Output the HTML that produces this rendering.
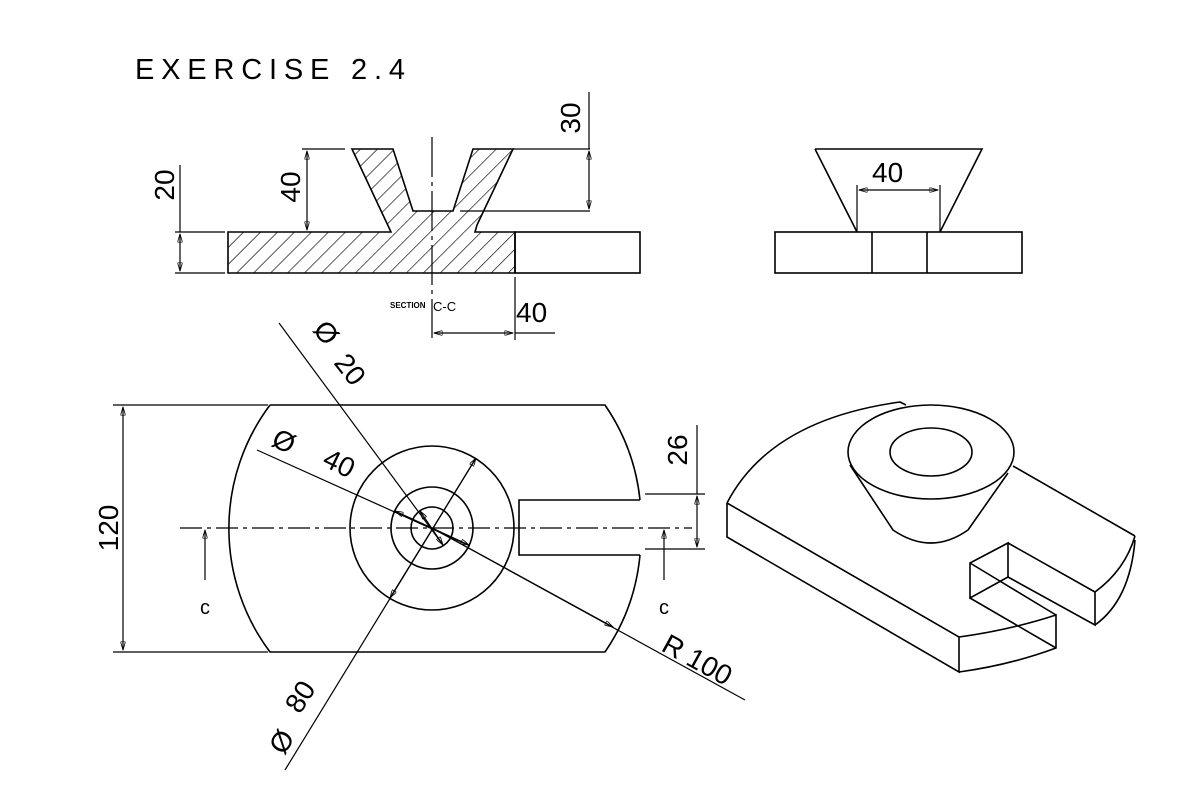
<!DOCTYPE html>
<html><head><meta charset="utf-8"><style>
html,body{margin:0;padding:0;background:#fff;}
svg{display:block;}
text{font-family:"Liberation Sans",sans-serif;fill:#000;}
</style></head><body>
<svg width="1200" height="802" viewBox="0 0 1200 802" xmlns="http://www.w3.org/2000/svg">
<defs>
<marker id="a" viewBox="0 0 10 6" refX="10" refY="3" markerWidth="9" markerHeight="5" orient="auto-start-reverse" markerUnits="userSpaceOnUse">
<path d="M0,0 L10,3 L0,6 z" fill="none" stroke="#000" stroke-width="1"/>
</marker>
<pattern id="h" patternUnits="userSpaceOnUse" width="12" height="12" patternTransform="rotate(45)">
<line x1="0" y1="0" x2="0" y2="12" stroke="#000" stroke-width="1.3"/>
</pattern>
</defs>
<g fill="none" stroke="#000" stroke-width="1.6">
<text x="135" y="79" font-size="29" stroke="none" textLength="270" style="font-weight:300">EXERCISE 2.4</text>

<!-- SECTION VIEW -->
<path d="M228,232 L391,232 L352,149 L393,149 L413,211 L453,211 L473,149 L513,149 L477,225 L475,232 L515,232 L515,273 L228,273 Z" fill="url(#h)"/>
<rect x="515" y="232" width="125" height="41"/>
<line x1="432" y1="137" x2="432" y2="338" stroke-width="1.2" stroke-dasharray="40 5 4 5"/>
<!-- dims -->
<line x1="175" y1="232" x2="225" y2="232" stroke-width="1.2"/>
<line x1="175" y1="273" x2="225" y2="273" stroke-width="1.2"/>
<line x1="180" y1="165" x2="180" y2="232" stroke-width="1.2"/>
<line x1="180" y1="234" x2="180" y2="271" stroke-width="1.2" marker-start="url(#a)" marker-end="url(#a)"/>
<line x1="302" y1="149" x2="345" y2="149" stroke-width="1.2"/>
<line x1="307" y1="151" x2="307" y2="230" stroke-width="1.2" marker-start="url(#a)" marker-end="url(#a)"/>
<line x1="513" y1="149" x2="590" y2="149" stroke-width="1.2"/>
<line x1="460" y1="211" x2="590" y2="211" stroke-width="1.2"/>
<line x1="589" y1="92" x2="589" y2="149" stroke-width="1.2"/>
<line x1="589" y1="151" x2="589" y2="209" stroke-width="1.2" marker-start="url(#a)" marker-end="url(#a)"/>
<line x1="515" y1="277" x2="515" y2="340" stroke-width="1.2"/>
<line x1="434" y1="333" x2="513" y2="333" stroke-width="1.2" marker-start="url(#a)" marker-end="url(#a)"/>
<line x1="515" y1="333" x2="555" y2="333" stroke-width="1.2"/>
<text transform="translate(174,185) rotate(-90)" font-size="28" stroke="none" text-anchor="middle">20</text>
<text transform="translate(300,187) rotate(-90)" font-size="28" stroke="none" text-anchor="middle">40</text>
<text transform="translate(580,118) rotate(-90)" font-size="28" stroke="none" text-anchor="middle">30</text>
<text x="390" y="308" font-size="8" stroke="none" font-weight="bold">SECTION</text>
<text x="433" y="311" font-size="13" stroke="none">C-C</text>
<text x="516" y="322" font-size="28" stroke="none">40</text>

<!-- SIDE VIEW -->
<rect x="775" y="232" width="247" height="41"/>
<line x1="872" y1="232" x2="872" y2="273"/>
<line x1="927" y1="232" x2="927" y2="273"/>
<path d="M815,149 L982,149 L940,232 M815,149 L857,232"/>
<line x1="857" y1="232" x2="857" y2="185" stroke-width="1.2"/>
<line x1="940" y1="232" x2="940" y2="185" stroke-width="1.2"/>
<line x1="859" y1="190" x2="938" y2="190" stroke-width="1.2" marker-start="url(#a)" marker-end="url(#a)"/>
<text x="872" y="182" font-size="28" stroke="none">40</text>

<!-- TOP VIEW -->
<path d="M270,405 L605,405 A206,206 0 0 1 640,500 M640,555 A206,206 0 0 1 605,652 L270,652 A206,206 0 0 1 270,405"/>
<path d="M640,500 L519,500 L519,555 L640,555"/>
<circle cx="432" cy="528" r="82"/>
<circle cx="432" cy="528" r="41"/>
<circle cx="432" cy="528" r="21"/>
<line x1="180" y1="528" x2="692" y2="528" stroke-width="1.2" stroke-dasharray="22 5 4 5"/>
<line x1="113" y1="405" x2="268" y2="405" stroke-width="1.2"/>
<line x1="113" y1="652" x2="268" y2="652" stroke-width="1.2"/>
<line x1="123" y1="407" x2="123" y2="650" stroke-width="1.2" marker-start="url(#a)" marker-end="url(#a)"/>
<text transform="translate(118,528) rotate(-90)" font-size="28" stroke="none" text-anchor="middle">120</text>
<line x1="645" y1="494" x2="705" y2="494" stroke-width="1.2"/>
<line x1="645" y1="549" x2="705" y2="549" stroke-width="1.2"/>
<line x1="697" y1="425" x2="697" y2="494" stroke-width="1.2"/>
<line x1="697" y1="496" x2="697" y2="547" stroke-width="1.2" marker-start="url(#a)" marker-end="url(#a)"/>
<text transform="translate(687,450) rotate(-90)" font-size="28" stroke="none" text-anchor="middle">26</text>
<line x1="205" y1="580" x2="205" y2="530" stroke-width="1.2" marker-end="url(#a)"/>
<text x="205" y="614" font-size="20" stroke="none" text-anchor="middle">c</text>
<line x1="664" y1="580" x2="664" y2="530" stroke-width="1.2" marker-end="url(#a)"/>
<text x="664" y="614" font-size="20" stroke="none" text-anchor="middle">c</text>
<!-- dia leaders -->
<line x1="279" y1="323" x2="443" y2="545" stroke-width="1.2"/>
<line x1="420" y1="511" x2="443" y2="545" stroke-width="1.2" marker-start="url(#a)" marker-end="url(#a)"/>
<line x1="257" y1="450" x2="470" y2="546" stroke-width="1.2"/>
<line x1="395" y1="511" x2="469" y2="545" stroke-width="1.2" marker-start="url(#a)" marker-end="url(#a)"/>
<line x1="432" y1="528" x2="745" y2="700" stroke-width="1.2"/>
<line x1="432" y1="528" x2="613" y2="627" stroke-width="1.2" marker-end="url(#a)"/>
<line x1="285" y1="770" x2="476" y2="458" stroke-width="1.2"/>
<line x1="390" y1="598" x2="476" y2="458" stroke-width="1.2" marker-start="url(#a)" marker-end="url(#a)"/>
<text transform="translate(312,330) rotate(52)" font-size="28" stroke="none">Ø</text>
<text transform="translate(333,363) rotate(52)" font-size="28" stroke="none">20</text>
<text transform="translate(270,445) rotate(26)" font-size="28" stroke="none">Ø</text>
<text transform="translate(321,465) rotate(26)" font-size="28" stroke="none">40</text>
<text transform="translate(284,756) rotate(-58)" font-size="28" stroke="none">Ø</text>
<text transform="translate(300,715) rotate(-58)" font-size="28" stroke="none">80</text>
<text transform="translate(660,650) rotate(29)" font-size="28" stroke="none">R 100</text>

<!-- ISOMETRIC -->
<path d="M727,503 Q770,420 900,402 L906,405"/>
<path d="M727,503 L727,537 L959,672 L959,637 L727,503"/>
<path d="M959,637 Q1010,630 1056,615 L1056,648 Q1010,665 959,672"/>
<path d="M970,563 L1008,543 L1008,577 L970,598 Z"/>
<path d="M970,563 L1056,615 M970,598 L1056,648"/>
<path d="M1008,543 L1095,592 L1095,625 L1008,577"/>
<path d="M1013,466 L1135,536 M1095,592 Q1125,570 1135,536 M1095,625 Q1130,600 1135,540"/>
<ellipse cx="931" cy="452" rx="83" ry="47"/>
<ellipse cx="931" cy="452" rx="41" ry="24"/>
<path d="M850,465 L893,530 Q931,556 968,530 L1008,473"/>
</g>
</svg>
</body></html>
